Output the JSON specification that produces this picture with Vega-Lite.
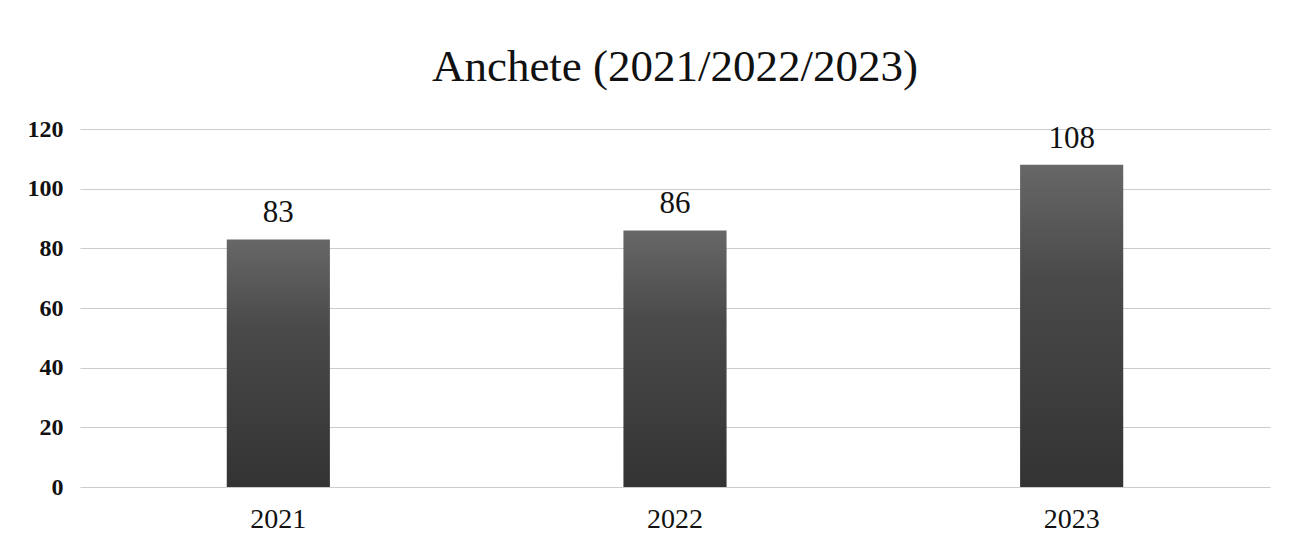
{
  "$schema": "https://vega.github.io/schema/vega-lite/v6.json",
  "width": 1190,
  "height": 358,
  "autosize": "none",
  "padding": {"left": 80, "top": 129, "right": 21, "bottom": 62},
  "background": "white",
  "title": {
    "text": "Anchete (2021/2022/2023)",
    "font": "Liberation Serif",
    "fontSize": 45,
    "fontWeight": "normal",
    "color": "#111111",
    "anchor": "middle",
    "offset": 27
  },
  "data": {
    "values": [
      {"an": "2021", "valoare": 83},
      {"an": "2022", "valoare": 86},
      {"an": "2023", "valoare": 108}
    ]
  },
  "encoding": {
    "x": {
      "field": "an",
      "type": "nominal",
      "scale": {"paddingInner": 0.74, "paddingOuter": 0.37},
      "axis": {
        "title": null,
        "labelAngle": 0,
        "labelFont": "Liberation Serif",
        "labelFontSize": 28,
        "labelColor": "#111111",
        "labelPadding": 18,
        "domain": false,
        "ticks": false,
        "grid": false
      }
    },
    "y": {
      "field": "valoare",
      "type": "quantitative",
      "scale": {"domain": [0, 120]},
      "axis": {
        "title": null,
        "values": [0, 20, 40, 60, 80, 100, 120],
        "labelFont": "Liberation Serif",
        "labelFontSize": 24,
        "labelFontWeight": "bold",
        "labelColor": "#111111",
        "labelPadding": 17,
        "domain": false,
        "ticks": false,
        "grid": true,
        "gridColor": "#cccccc",
        "gridWidth": 1
      }
    }
  },
  "layer": [
    {
      "mark": {
        "type": "bar",
        "color": {
          "gradient": "linear",
          "x1": 0, "y1": 0, "x2": 0, "y2": 1,
          "stops": [
            {"offset": 0, "color": "#676767"},
            {"offset": 0.35, "color": "#4a4a4a"},
            {"offset": 1, "color": "#333333"}
          ]
        }
      }
    },
    {
      "mark": {
        "type": "text",
        "baseline": "bottom",
        "dy": -10,
        "font": "Liberation Serif",
        "fontSize": 31,
        "color": "#111111"
      },
      "encoding": {"text": {"field": "valoare", "type": "quantitative"}}
    }
  ],
  "config": {"view": {"stroke": null}, "text": {"font": "Liberation Serif"}, "font": "Liberation Serif"}
}
